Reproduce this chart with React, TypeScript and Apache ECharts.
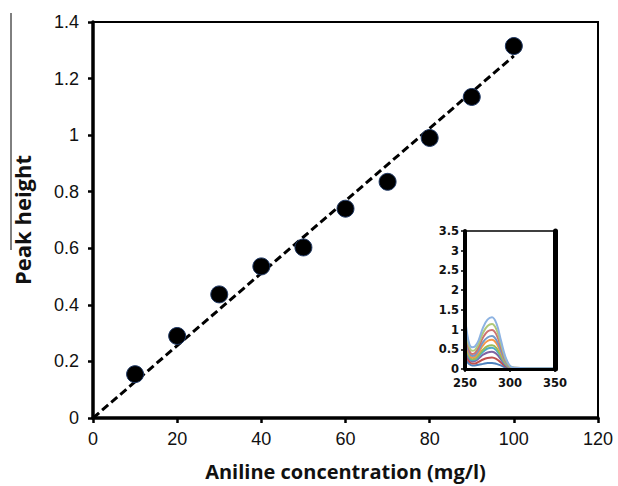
import React, { useEffect, useRef } from "react";
import * as echarts from "echarts";

// Calibration: aniline concentration vs. peak height
const concentrations = [10, 20, 30, 40, 50, 60, 70, 80, 90, 100];
const peakHeights = [0.155, 0.29, 0.437, 0.536, 0.603, 0.74, 0.835, 0.99, 1.135, 1.315];

// Linear fit endpoints (concentration, peak height)
const fitLine: [number, number][] = [
  [0, 0],
  [100, 1.28],
];

const xTicks = { min: 0, max: 120, interval: 20 };
const yTicks = { min: 0, max: 1.4, interval: 0.2 };

// Inset: UV spectra, one curve per standard
const wavelengths = [250, 252, 255, 258, 261, 265, 270, 275, 280, 285, 290, 295, 300, 305, 320, 350];
const spectra: number[][] = [
  [0.28, 0.2, 0.12, 0.09, 0.09, 0.11, 0.13, 0.15, 0.155, 0.13, 0.09, 0.04, 0.02, 0.02, 0.02, 0.02],
  [0.42, 0.29, 0.18, 0.14, 0.14, 0.18, 0.24, 0.28, 0.29, 0.25, 0.16, 0.07, 0.03, 0.02, 0.02, 0.02],
  [0.56, 0.39, 0.24, 0.19, 0.2, 0.26, 0.36, 0.42, 0.44, 0.38, 0.24, 0.1, 0.03, 0.02, 0.02, 0.02],
  [0.66, 0.46, 0.28, 0.22, 0.23, 0.31, 0.44, 0.52, 0.54, 0.47, 0.3, 0.12, 0.04, 0.02, 0.02, 0.02],
  [0.72, 0.5, 0.31, 0.25, 0.26, 0.35, 0.49, 0.58, 0.6, 0.53, 0.33, 0.14, 0.04, 0.02, 0.02, 0.02],
  [0.85, 0.58, 0.36, 0.29, 0.31, 0.42, 0.6, 0.71, 0.74, 0.65, 0.41, 0.17, 0.05, 0.02, 0.02, 0.02],
  [0.95, 0.65, 0.4, 0.33, 0.35, 0.47, 0.68, 0.8, 0.835, 0.73, 0.46, 0.19, 0.05, 0.02, 0.02, 0.02],
  [1.1, 0.75, 0.46, 0.38, 0.4, 0.55, 0.8, 0.95, 0.99, 0.87, 0.55, 0.23, 0.06, 0.03, 0.02, 0.02],
  [1.22, 0.85, 0.54, 0.46, 0.48, 0.63, 0.92, 1.09, 1.14, 1.0, 0.63, 0.26, 0.07, 0.03, 0.02, 0.02],
  [1.32, 0.95, 0.62, 0.55, 0.57, 0.72, 1.05, 1.25, 1.31, 1.15, 0.72, 0.3, 0.08, 0.03, 0.02, 0.02],
];
const spectraColors = [
  "#4F81BD", "#C0504D", "#8064A2", "#4BACC6", "#9BBB59",
  "#F79646", "#729ACA", "#CD7371", "#AFC97A", "#8DB3E2",
];
const insetX = { min: 250, max: 350, interval: 50 };
const insetY = { min: 0, max: 3.5, interval: 0.5 };

export default function App() {
  const ref = useRef<HTMLDivElement>(null);

  useEffect(() => {
    if (!ref.current) return;
    const chart = echarts.init(ref.current, null, { renderer: "svg" });

    const tickFont = { fontFamily: "Liberation Sans, Arial, sans-serif", fontSize: 18, color: "#111" };
    const insetFont = { fontFamily: "DejaVu Sans", fontWeight: "bold" as const, fontSize: 11.5, color: "#111" };

    const spectraSeries = spectra.map((vals, i) => ({
      type: "line" as const,
      xAxisIndex: 1,
      yAxisIndex: 1,
      data: wavelengths.map((w, j) => [w, vals[j]]),
      smooth: 0.4,
      showSymbol: false,
      lineStyle: { color: spectraColors[i], width: 2 },
      z: 5,
    }));

    chart.setOption({
      animation: false,
      backgroundColor: "#fff",
      grid: [
        { left: 93, top: 22, width: 505, height: 397, show: true, borderColor: "#000", borderWidth: 2, backgroundColor: "transparent" },
        { left: 465, top: 231, width: 90, height: 138, show: true, borderColor: "#000", borderWidth: 1.5, backgroundColor: "#fff", z: 4 },
      ],
      xAxis: [
        {
          type: "value",
          gridIndex: 0,
          ...xTicks,
          name: "Aniline concentration (mg/l)",
          nameLocation: "middle",
          nameGap: 43,
          nameTextStyle: { fontFamily: "Open Sans", fontWeight: "bold", fontSize: 20, color: "#111" },
          axisLine: { lineStyle: { color: "#000", width: 3.5 } },
          axisTick: { length: 5, lineStyle: { color: "#000", width: 2.5 } },
          axisLabel: { ...tickFont, margin: 12 },
          splitLine: { show: false },
        },
        {
          type: "value",
          gridIndex: 1,
          ...insetX,
          axisLine: { lineStyle: { color: "#000", width: 3 } },
          axisTick: { length: 3, lineStyle: { color: "#000", width: 1.5 } },
          axisLabel: { ...insetFont, margin: 8 },
          splitLine: { show: false },
          z: 6,
        },
      ],
      yAxis: [
        {
          type: "value",
          gridIndex: 0,
          ...yTicks,
          name: "Peak height",
          nameLocation: "middle",
          nameGap: 60,
          nameTextStyle: { fontFamily: "Open Sans", fontWeight: "bold", fontSize: 22, color: "#111" },
          axisLine: { lineStyle: { color: "#000", width: 3.5 } },
          axisTick: { length: 5, lineStyle: { color: "#000", width: 2.5 } },
          axisLabel: { ...tickFont, margin: 14 },
          splitLine: { show: false },
        },
        {
          type: "value",
          gridIndex: 1,
          ...insetY,
          axisLine: { lineStyle: { color: "#000", width: 4 } },
          axisTick: { length: 4, lineStyle: { color: "#000", width: 1.5 } },
          axisLabel: { ...insetFont, margin: 6 },
          splitLine: { show: false },
          z: 6,
        },
        {
          type: "value",
          gridIndex: 1,
          position: "right",
          ...insetY,
          axisLine: { show: true, lineStyle: { color: "#000", width: 5 } },
          axisTick: { show: false },
          axisLabel: { show: false },
          splitLine: { show: false },
          z: 6,
        },
      ],
      series: [
        {
          type: "line",
          xAxisIndex: 0,
          yAxisIndex: 0,
          data: fitLine,
          showSymbol: false,
          lineStyle: { color: "#000", width: 3, type: [8, 4] },
          z: 2,
        },
        {
          type: "scatter",
          xAxisIndex: 0,
          yAxisIndex: 0,
          data: concentrations.map((c, i) => [c, peakHeights[i]]),
          symbol: "circle",
          symbolSize: 17,
          itemStyle: { color: "#000", borderColor: "#1F3864", borderWidth: 1, opacity: 1 },
          z: 3,
        },
        ...spectraSeries,
      ],
      graphic: [
        {
          type: "line",
          shape: { x1: 11, y1: 13, x2: 11, y2: 250 },
          style: { stroke: "#000", lineWidth: 1 },
        },
      ],
    });

    return () => chart.dispose();
  }, []);

  return (
    <div
      ref={ref}
      style={{ position: "fixed", left: 0, top: 0, width: 618, height: 486 }}
    />
  );
}
